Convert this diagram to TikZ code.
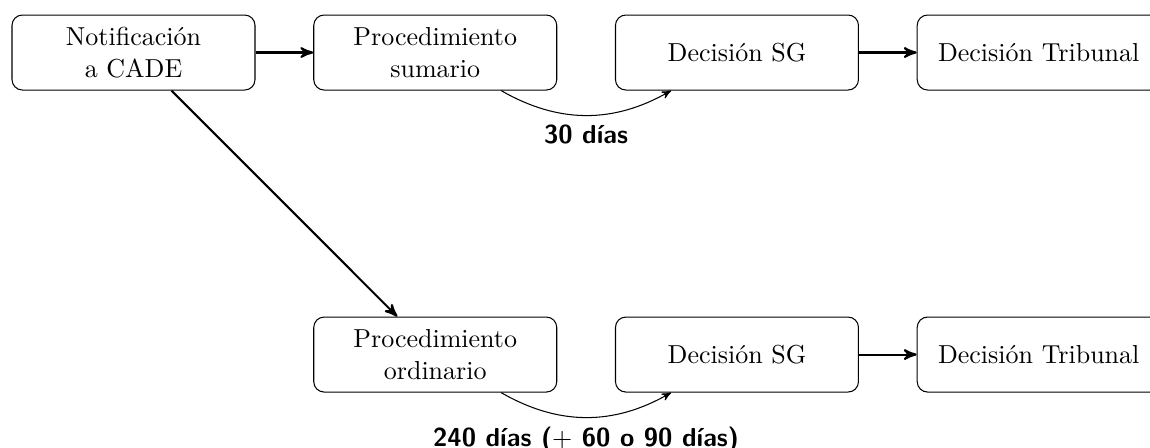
\documentclass[tikz,border=0pt]{standalone}
\usepackage{tikz}
\usetikzlibrary{arrows,positioning}

\begin{document}
\begin{tikzpicture}[>=stealth', node distance=7.8mm,
	box/.style={draw, rounded corners, align=center,
		minimum width=3.285cm, minimum height=1.014cm},
	days/.style={font=\sffamily\bfseries}]
	\useasboundingbox (0,0) rectangle (15.547,-6.043);

	% Top row {notif, sumario, sgone, tribone}
	\node [box] 	(notif) at (1.805,-0.710) 	{Notificación\\a CADE};
	\node [box] 	(sumario) [right=of notif] 	{Procedimiento\\sumario};
	\node [box] 	(sgone)   [right=of sumario] 	{Decisión SG};
	\node [box] 	(tribone) [right=of sgone] 	{Decisión Tribunal};

	% Bottom row {ordinario, sgtwo, tribtwo}
	\node [box] 	(ordinario) [below=3.055cm of sumario] {Procedimiento\\ordinario};
	\node [box] 	(sgtwo)   [right=of ordinario] 	{Decisión SG};
	\node [box] 	(tribtwo) [right=of sgtwo] 	{Decisión Tribunal};

	% Straight arrows
	\draw [->, thick] (notif) -- (sumario);
	\draw [->, thick] (notif) -- (ordinario);
	\draw [->, thick] (sgone) -- (tribone);
	\draw [->, thick] (sgtwo) -- (tribtwo);

	% Time limits
	\path [->] 	(sumario) edge [bend right] 	node [below, days]
	{30 días}		(sgone);
	\path [->] 	(ordinario) edge [bend right] 	node [below, days]
	{240 días ($+$ 60 o 90 días)}		(sgtwo);

\end{tikzpicture}
\end{document}
